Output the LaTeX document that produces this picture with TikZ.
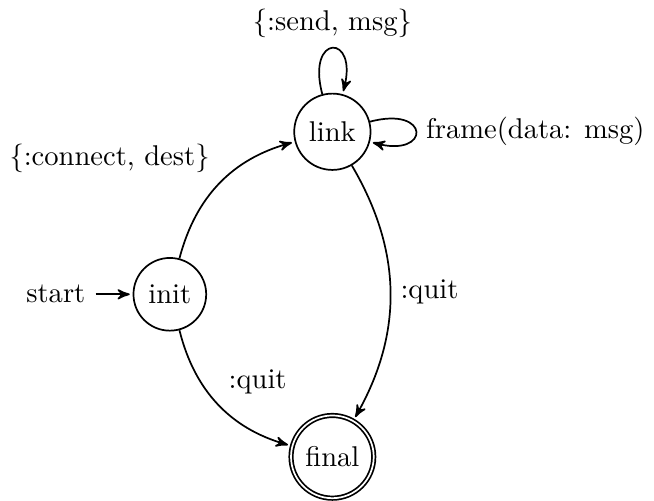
\documentclass[tikz,border=0pt]{standalone}
\usetikzlibrary{automata,positioning,arrows}

\begin{document}
\begin{tikzpicture}[->, >=stealth', shorten >=1pt, auto, node distance=2cm and 2cm, on grid, semithick]

\node[initial, state] (init) {init};
\node[state] (link) [above right=of init] {link};
\node[state, accepting] (final) [below right=of init] {final};

\path (init) edge [bend left] node {\{:connect, dest\}} (link)
             edge [bend right] node {:quit} (final)
      (link) edge [loop above] node {\{:send, msg\}} (link)
             edge [loop right] node {frame(data: msg)} (link)
             edge [bend left] node {:quit} (final);
\end{tikzpicture}
\end{document}
